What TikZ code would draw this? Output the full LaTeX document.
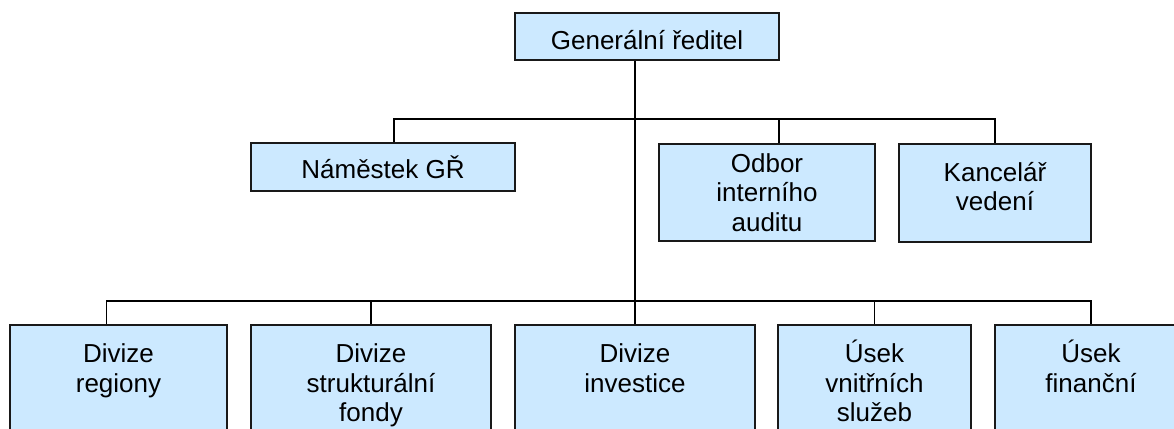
\documentclass[tikz,border=0pt]{standalone}
\usepackage{fontspec}
\setmainfont{Liberation Sans}
\usepackage{tikz}
\definecolor{boxblue}{RGB}{204,233,255}
\tikzstyle{unit}=[draw=black!90, line width=1.5pt, fill=boxblue, inner sep=0pt, align=center]
\tikzstyle{divunit}=[unit, anchor=north, text height=24pt, text depth=110pt, inner ysep=14pt]
\tikzstyle{link}=[line width=1.6pt]

\begin{document}
\begin{tikzpicture}[x=1pt, y=-1pt, font=\fontsize{26}{29.5}\selectfont]
        \useasboundingbox (0,0) rectangle (1174,428);
        \clip (0,0) rectangle (1174,428);
        % vedeni
        \node[unit, minimum width=264pt, minimum height=47pt, text height=25pt, text depth=0pt] (gr) at (647,36.5) {Generální ředitel};
        \node[unit, minimum width=264pt, minimum height=48pt] (nam) at (383,167) {Náměstek GŘ};
        \node[unit, minimum width=216pt, minimum height=97pt, text width=216pt] (odb) at (767,192.5) {Odbor\\interního\\auditu};
        \node[unit, minimum width=192pt, minimum height=98pt, text width=192pt, text height=20pt, text depth=44pt] (kanc) at (995,193) {Kancelář\\vedení};
        % divize a useky
        \node[divunit, minimum width=217pt, text width=217pt] (reg) at (118.5,324) {Divize\\regiony};
        \node[divunit, minimum width=240pt, text width=240pt] (struk) at (371,324) {Divize\\strukturální\\fondy};
        \node[divunit, minimum width=240pt, text width=240pt] (inv) at (635,324) {Divize\\investice};
        \node[divunit, minimum width=193pt, text width=193pt] (vnit) at (874.5,324) {Úsek\\vnitřních\\služeb};
        \node[divunit, minimum width=192pt, text width=192pt] (fin) at (1091,324) {Úsek\\finanční};
        % spojnice
        \coordinate (top bar) at (635,119);
        \coordinate (bottom bar) at (635,301);
        \draw[link] (gr.south -| inv.north) -- (inv.north);
        \draw[link] ([xshift=11pt]nam.north) |- (top bar) -| (kanc.north);
        \draw[link] ([xshift=12pt]odb.north) -- ([xshift=12pt]odb.north |- top bar);
        \draw[link] ([xshift=-12pt]reg.north) |- (bottom bar) -| (fin.north);
        \draw[link] (struk.north) -- (struk.north |- bottom bar);
        \draw[link] (vnit.north) -- (vnit.north |- bottom bar);
\end{tikzpicture}
\end{document}
